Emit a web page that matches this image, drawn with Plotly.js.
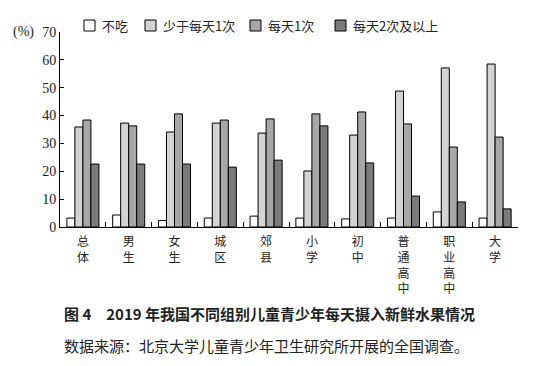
<!DOCTYPE html>
<html><head><meta charset="utf-8">
<script src="https://cdn.plot.ly/plotly-3.0.1.min.js"></script>
<style>html,body{margin:0;padding:0;background:#fff}#c{width:540px;height:366px}</style>
</head><body><div id="c"></div>
<script>
const categories = ["总体","男生","女生","城区","郊县","小学","初中","普通高中","职业高中","大学"];
const seriesNames = ["不吃","少于每天1次","每天1次","每天2次及以上"];
const notEat = [3.2,4.3,2.3,3.2,3.9,3.2,2.9,3.2,5.4,3.2];
const lessThanDaily = [35.9,37.3,34.1,37.3,33.7,20.1,33.0,48.8,57.1,58.5];
const oncePerDay = [38.4,36.3,40.6,38.4,38.8,40.6,41.3,37.0,28.7,32.3];
const twicePlus = [22.6,22.6,22.6,21.5,24.0,36.3,23.0,11.1,9.0,6.5];
const yTicks = [0,10,20,30,40,50,60,70];

const colors = ["#ffffff","#d3d3d3","#a7a7a7","#7b7b7b"];
const vals = [notEat,lessThanDaily,oncePerDay,twicePlus];
const labels = categories.map(c => c.split("").join("<br>"));
const traces = vals.map((v,i)=>({
  type:"bar", x:labels, y:v, name:seriesNames[i],
  marker:{color:colors[i], line:{color:"#000", width:1}}
}));
const serif = "Liberation Serif, Noto Sans CJK SC, serif";
const cjk = "Noto Sans CJK SC";
// manual legend positions (pixels)
const L = 60, W = 458, T = 32, H = 195;
const px = x => (x - L) / W, py = y => (T + H - y) / H;
const legSq = [84, 145, 250, 335];
const shapes = [], annotations = [];
seriesNames.forEach((n,i)=>{
  shapes.push({type:"rect", xref:"paper", yref:"paper",
    x0:px(legSq[i]), x1:px(legSq[i]+11), y0:py(31), y1:py(20),
    fillcolor:colors[i], line:{color:"#000", width:1}});
  annotations.push({xref:"paper", yref:"paper", x:px(legSq[i]+16), y:py(25.5),
    xanchor:"left", yanchor:"middle", showarrow:false, text:n,
    font:{family:cjk, size:13, color:"#222"}});
});
annotations.push(
  {xref:"paper", yref:"paper", x:px(36), y:py(32), xanchor:"right", yanchor:"middle", showarrow:false,
   text:"(%)", font:{family:serif, size:14, color:"#222"}},
  {xref:"paper", yref:"paper", x:px(62), y:py(313), xanchor:"left", yanchor:"middle", showarrow:false,
   text:"<b>图 4　2019 年我国不同组别儿童青少年每天摄入新鲜水果情况</b>", font:{family:cjk, size:15, color:"#222"}},
  {xref:"paper", yref:"paper", x:px(62), y:py(345), xanchor:"left", yanchor:"middle", showarrow:false,
   text:"数据来源：北京大学儿童青少年卫生研究所开展的全国调查。", font:{family:cjk, size:15, color:"#222"}}
);
const layout = {
  width:540, height:366,
  margin:{l:60, r:22, t:32, b:139},
  paper_bgcolor:"#fff", plot_bgcolor:"#fff",
  barmode:"group", bargap:0.3, bargroupgap:0,
  showlegend:false,
  xaxis:{type:"category", showline:true, linecolor:"#000", linewidth:1,
    ticks:"inside", tickson:"boundaries", ticklen:5, tickcolor:"#000", ticklabelstandoff:4,
    tickfont:{family:cjk, size:12, color:"#222"}, showgrid:false, zeroline:false},
  yaxis:{range:[0,70], tickvals:yTicks, showline:true, linecolor:"#000", linewidth:1,
    ticks:"inside", ticklen:4, tickcolor:"#000", showgrid:false, zeroline:false,
    tickfont:{family:serif, size:14, color:"#222"}},
  shapes:shapes,
  annotations:annotations
};
Plotly.newPlot("c", traces, layout, {displayModeBar:false, staticPlot:true});
</script></body></html>
